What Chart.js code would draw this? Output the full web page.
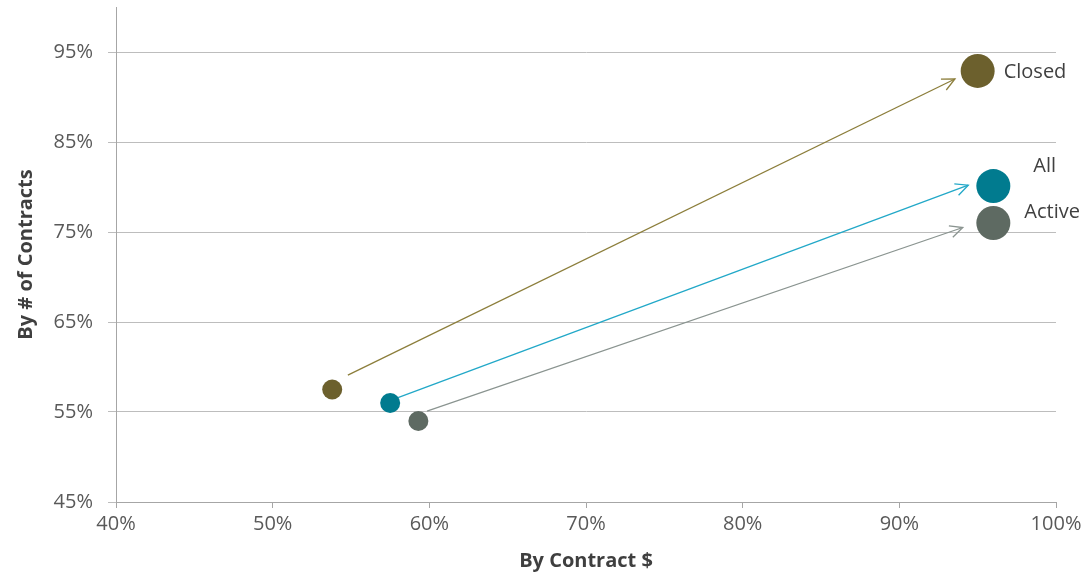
<!DOCTYPE html>
<html>
<head>
<meta charset="utf-8">
<script src="https://cdn.jsdelivr.net/npm/chart.js@4.4.1/dist/chart.umd.min.js"></script>
<style>
  html, body { margin: 0; padding: 0; background: #ffffff; }
  #wrap { width: 1089px; height: 576px; position: relative; }
</style>
</head>
<body>
<div id="wrap"><canvas id="chart"></canvas></div>
<script>
// Groups and their start / end positions (share by contract $, share by # of contracts)
const groups = ['Closed', 'All', 'Active'];
const startX = [53.8, 57.5, 59.3];
const startY = [57.5, 56.0, 54.0];
const endX   = [95.0, 96.0, 96.0];
const endY   = [92.9, 80.1, 76.0];

// Arrow segments: tail and head, in axis units
const arrowFromX = [54.8, 58.0, 59.85];
const arrowFromY = [59.1, 56.6, 55.1];
const arrowToX   = [93.55, 94.4, 94.05];
const arrowToY   = [92.0, 80.2, 75.5];

// Axis ticks
const xTicks = [40, 50, 60, 70, 80, 90, 100];
const yTicks = [45, 55, 65, 75, 85, 95];

const dotColors   = ['#6C602D', '#017B8F', '#5E6A62'];
const arrowColors = ['#8C7E3B', '#22A8C8', '#8A9490'];

const datasets = [];
groups.forEach((g, i) => {
  datasets.push({
    type: 'line',
    label: g + ' arrow',
    data: [{ x: arrowFromX[i], y: arrowFromY[i] }, { x: arrowToX[i], y: arrowToY[i] }],
    borderColor: arrowColors[i],
    borderWidth: 1.3,
    pointRadius: 0,
    fill: false,
    order: 2
  });
});
groups.forEach((g, i) => {
  datasets.push({
    type: 'bubble',
    label: g,
    data: [{ x: startX[i], y: startY[i], r: 10 }, { x: endX[i], y: endY[i], r: 17 }],
    backgroundColor: dotColors[i],
    borderColor: dotColors[i],
    borderWidth: 0,
    order: 1
  });
});

// Open V heads at the end of each arrow line
const arrowHeads = {
  id: 'arrowHeads',
  afterDatasetsDraw(chart) {
    const ctx = chart.ctx;
    groups.forEach((g, i) => {
      const pts = chart.getDatasetMeta(i).data;
      if (!pts || pts.length < 2) return;
      const a = pts[0], b = pts[1];
      const ang = Math.atan2(b.y - a.y, b.x - a.x);
      const len = 14, spread = Math.PI / 7;
      ctx.save();
      ctx.strokeStyle = arrowColors[i];
      ctx.lineWidth = 1.3;
      ctx.beginPath();
      ctx.moveTo(b.x - len * Math.cos(ang - spread), b.y - len * Math.sin(ang - spread));
      ctx.lineTo(b.x, b.y);
      ctx.lineTo(b.x - len * Math.cos(ang + spread), b.y - len * Math.sin(ang + spread));
      ctx.stroke();
      ctx.restore();
    });
  }
};

// Group names next to the large end bubbles
const groupLabels = {
  id: 'groupLabels',
  afterDatasetsDraw(chart) {
    const ctx = chart.ctx;
    const offsets = [[26, 1], [40, -20], [31, -11]];
    ctx.save();
    ctx.font = '20px "Open Sans"';
    ctx.fillStyle = '#404040';
    ctx.textBaseline = 'middle';
    ctx.textAlign = 'left';
    groups.forEach((g, i) => {
      const meta = chart.getDatasetMeta(groups.length + i);
      const p = meta.data[1];
      ctx.fillText(g, p.x + offsets[i][0], p.y + offsets[i][1]);
    });
    ctx.restore();
  }
};

new Chart(document.getElementById('chart'), {
  data: { datasets },
  options: {
    responsive: true,
    maintainAspectRatio: false,
    animation: false,
    layout: { autoPadding: false, padding: { left: 0, top: 7, right: 33, bottom: 0 } },
    plugins: { legend: { display: false }, tooltip: { enabled: false } },
    scales: {
      x: {
        type: 'linear',
        min: 40, max: 100,
        afterBuildTicks(scale) { scale.ticks = xTicks.map(v => ({ value: v })); },
        afterFit(scale) { scale.height = 74; scale.paddingLeft = 0; scale.paddingRight = 0; },
        grid: { drawOnChartArea: false, drawTicks: true, tickLength: 6, color: '#A6A6A6' },
        border: { color: '#A6A6A6', width: 1 },
        ticks: {
          padding: 4,
          color: '#595959',
          font: { family: '"Open Sans"', size: 20 },
          callback: v => v + '%'
        },
        title: {
          display: true,
          text: 'By Contract $',
          color: '#3F3F3F',
          font: { family: '"Open Sans"', size: 20, weight: 'bold' },
          padding: { top: 0, bottom: 3 }
        }
      },
      y: {
        type: 'linear',
        min: 45, max: 100,
        afterBuildTicks(scale) { scale.ticks = yTicks.map(v => ({ value: v })); },
        afterFit(scale) { scale.width = 116; scale.paddingTop = 0; scale.paddingBottom = 0; },
        grid: { drawOnChartArea: true, drawTicks: true, tickLength: 8, color: '#BDBDBD', lineWidth: 1 },
        border: { color: '#A6A6A6', width: 1 },
        ticks: {
          padding: 15,
          color: '#595959',
          font: { family: '"Open Sans"', size: 20 },
          callback: v => v + '%'
        },
        title: {
          display: true,
          text: 'By # of Contracts',
          color: '#3F3F3F',
          font: { family: '"Open Sans"', size: 20, weight: 'bold' },
          padding: { top: 14, bottom: 0 }
        }
      }
    }
  },
  plugins: [arrowHeads, groupLabels]
});
</script>
</body>
</html>
